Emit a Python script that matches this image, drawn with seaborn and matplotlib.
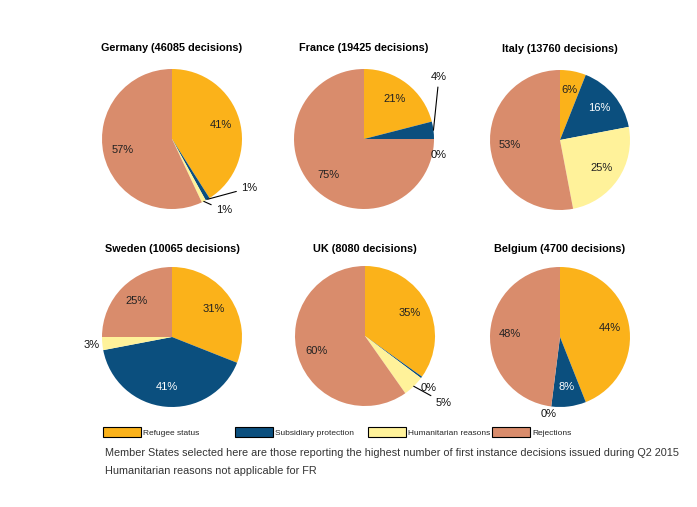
import numpy as np
import matplotlib
matplotlib.use("Agg")
import matplotlib.pyplot as plt
from matplotlib.patches import Patch
import seaborn as sns

sns.set_theme(style="white")
plt.rcParams["font.family"] = ["Liberation Sans", "DejaVu Sans"]

# data
countries = ["Germany", "France", "Italy", "Sweden", "UK", "Belgium"]
decisions = [46085, 19425, 13760, 10065, 8080, 4700]
categories = ["Refugee status", "Subsidiary protection", "Humanitarian reasons", "Rejections"]
refugee = [41, 21, 6, 31, 35, 44]
subsidiary = [1, 4, 16, 41, 0.4, 8]
humanitarian = [1, 0, 25, 3, 5, 0]
rejections = [57, 75, 53, 25, 60, 48]
notes = ["Member States selected here are those reporting the highest number of first instance decisions issued during Q2 2015",
         "Humanitarian reasons not applicable for FR"]

colors = sns.color_palette(["#FBB21A", "#0B4F7E", "#FFF29A", "#D98C6C"])
label_colors = ["#222222", "white", "#222222", "#222222"]

# pie centres in pixels (x from left, y from top), radius in pixels
W, H = 697, 507
centres = [(172, 139), (364, 139), (560, 140), (172, 337), (365, 336), (560, 337)]
R = 70
title_off = [1.3, 1.3, 1.3, 1.25, 1.25, 1.25]
legend_x = [103, 235, 368, 492]

# outside labels: (pie, category) -> (text position in pie units, leader line?)
outside = {
    (0, 1): ((1.1, -0.70), True),
    (0, 2): ((0.74, -1.02), True),
    (1, 1): ((1.07, 0.88), True),
    (1, 2): ((1.07, -0.23), False),
    (3, 2): ((-1.15, -0.11), False),
    (4, 1): ((0.91, -0.74), False),
    (4, 2): ((1.12, -0.95), True),
    (5, 2): ((-0.16, -1.1), False),
}

fig = plt.figure(figsize=(W / 100, H / 100), dpi=100)

for i, name in enumerate(countries):
    vals = np.array([refugee[i], subsidiary[i], humanitarian[i], rejections[i]], dtype=float)
    cx, cy = centres[i]
    ax = fig.add_axes([(cx - R) / W, (H - cy - R) / H, 2 * R / W, 2 * R / H])
    wedges, _ = ax.pie(vals, colors=colors, startangle=90, counterclock=False,
                       radius=1, wedgeprops=dict(linewidth=0))
    ax.set_xlim(-1, 1)
    ax.set_ylim(-1, 1)
    ax.set_aspect("equal")
    ax.axis("off")
    shares = vals / vals.sum() * 100
    for j, w in enumerate(wedges):
        mid = np.deg2rad((w.theta1 + w.theta2) / 2)
        txt = f"{shares[j]:.0f}%"
        if (i, j) in outside:
            pos, line = outside[(i, j)]
            edge = (np.cos(mid), np.sin(mid))
            if line:
                ax.annotate(txt, xy=edge, xytext=pos, fontsize=8, color="#111111",
                            ha="center", va="center", annotation_clip=False,
                            arrowprops=dict(arrowstyle="-", color="black", lw=0.8,
                                            shrinkA=1, shrinkB=0))
            else:
                ax.text(pos[0], pos[1], txt, fontsize=8, color="#111111",
                        ha="center", va="center")
        else:
            ax.text(0.72 * np.cos(mid), 0.72 * np.sin(mid), txt, fontsize=8,
                    color=label_colors[j], ha="center", va="center")
    ax.text(0, title_off[i], f"{name} ({decisions[i]} decisions)", fontsize=7.8,
            fontweight="bold", ha="center", va="center", color="black")

# one legend entry per box so that each sits where the reference has it
for c, lab, lx in zip(colors, categories, legend_x):
    h = Patch(facecolor=c, edgecolor="black", linewidth=0.8)
    fig.legend([h], [lab], loc="center left", bbox_to_anchor=(lx / W, 1 - 432 / H),
               frameon=False, fontsize=6.0, borderpad=0, borderaxespad=0,
               handlelength=4.5, handleheight=1.6, handletextpad=0.3)

fig.text(105 / W, 1 - 453 / H, notes[0], fontsize=7.8, color="#333333", va="center")
fig.text(105 / W, 1 - 471 / H, notes[1], fontsize=7.8, color="#333333", va="center")

fig.savefig("out.png", dpi=100, facecolor="white")
